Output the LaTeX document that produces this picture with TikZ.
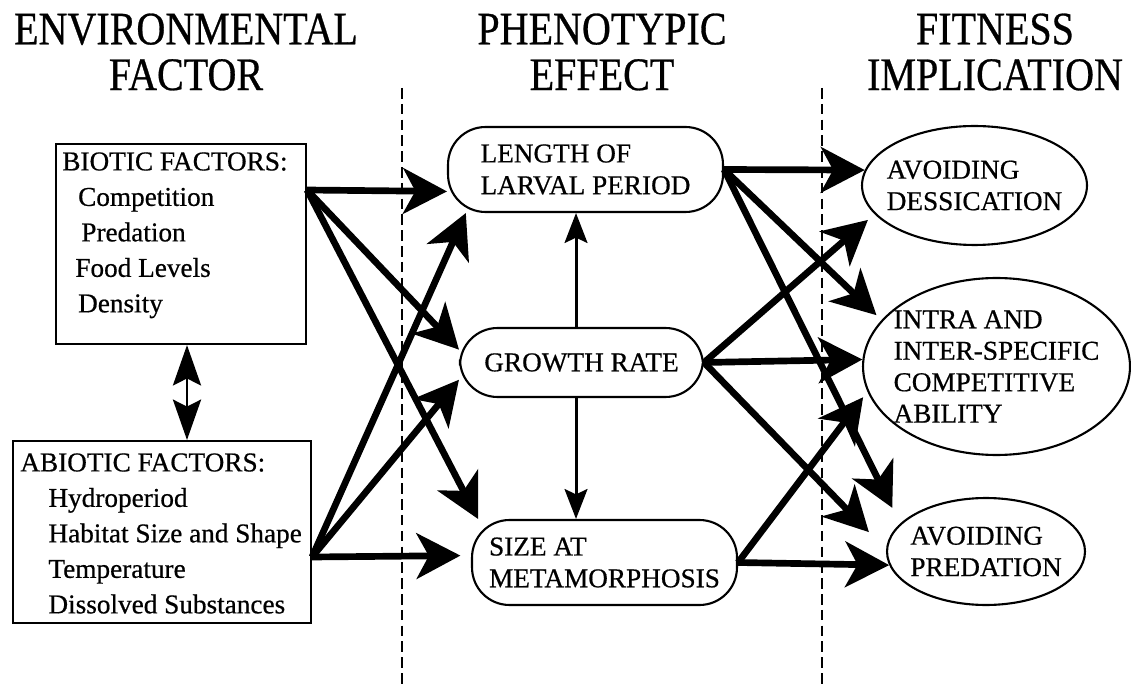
\documentclass[tikz,border=0pt]{standalone}
\usepackage{fontspec}
\setmainfont[FakeBold=0.6]{Liberation Serif}
\newfontfamily\headfont[FakeStretch=0.86,FakeBold=0.6]{Liberation Serif}
\usetikzlibrary{arrows.meta,shapes.geometric}

\begin{document}
\begin{tikzpicture}[x=0.02cm,y=-0.02cm,
  heading/.style={font=\headfont\fontsize{26.5}{26}\selectfont, align=center},
  txt/.style={font=\fontsize{15.5}{20.2}\selectfont, align=left, inner sep=0pt},
  box/.style={draw, line width=1.2pt, inner sep=0pt},
  phen/.style={draw, rounded corners=0.75cm, line width=1.2pt, align=left, inner sep=0pt, font=\fontsize{15.5}{18.1}\selectfont},
  fitn/.style={draw, ellipse, line width=1.2pt, align=left, inner sep=-20pt, font=\fontsize{15.5}{17.9}\selectfont},
  bigarr/.style={line width=3.8pt, -{Stealth[length=25pt,width=26pt,inset=7pt]}},
  thinarr/.style={line width=1.7pt, -{Stealth[length=17pt,width=13pt,inset=3pt]}},
  linkarr/.style={line width=1.6pt, {Stealth[length=23pt,width=16pt,inset=4pt]}-{Stealth[length=23pt,width=16pt,inset=4pt]}},
  divline/.style={line width=1.1pt, dash pattern=on 6pt off 3pt}]

\useasboundingbox (0,0) rectangle (1131,685);

% column titles
\node[heading] (envhead) at (186,52) {ENVIRONMENTAL\\FACTOR};
\node[heading] (phenhead) at (602,52) {PHENOTYPIC\\EFFECT};
\node[heading] (fithead) at (995,52) {FITNESS\\IMPLICATION};

\draw[divline] (402,88) -- (402,685);
\draw[divline] (822,88) -- (822,685);

% environmental factors
\node[box, anchor=north west, minimum width=5cm, minimum height=4cm] (bio) at (55,143) {};
\node[txt, anchor=north west] (biotxt) at (62,152) {BIOTIC FACTORS:\\\hspace*{9pt}Competition\\\hspace*{10.8pt}Predation\\\hspace*{7.4pt}Food Levels\\\hspace*{9pt}Density};

\node[box, anchor=north west, minimum width=5.96cm, minimum height=3.64cm] (abio) at (12,440) {};
\node[txt, anchor=north west] (abiotxt) at (20,453) {ABIOTIC FACTORS:\\\hspace*{16pt}Hydroperiod\\\hspace*{16pt}Habitat Size and Shape\\\hspace*{16pt}Temperature\\\hspace*{16pt}Dissolved Substances};

% phenotypic effects
\node[phen, minimum width=5.5cm, minimum height=1.7cm] (len) at (585.5,169.5) {LENGTH OF\\LARVAL PERIOD};
\node[phen, minimum width=4.86cm, minimum height=1.38cm] (gr) at (581.5,362.5) {GROWTH RATE};
\node[phen, minimum width=5.3cm, minimum height=1.7cm] (meta) at (604.5,562.5) {SIZE AT\\METAMORPHOSIS};

% fitness implications
\node[fitn, minimum width=4.5cm, minimum height=2.38cm] (dess) at (974.5,185.5) {AVOIDING\\DESSICATION};
\node[fitn, minimum width=5.34cm, minimum height=3.54cm] (comp) at (996.5,366.5) {INTRA AND\\INTER-SPECIFIC\\COMPETITIVE\\ABILITY};
\node[fitn, minimum width=3.96cm, minimum height=2.14cm] (pred) at (986,551.5) {AVOIDING\\PREDATION};

\coordinate (bout) at (bio.east |- 0,190);
\coordinate (aout) at (abio.east |- 0,557);
\coordinate (mid) at (576,0);
\coordinate (link) at (187,0);

\draw[linkarr] (bio.south -| link) -- (abio.north -| link);

\draw[bigarr] (bout) -- (len.189);
\draw[bigarr] (bout) -- (gr.174);
\draw[bigarr] (bout) -- (meta.161);
\draw[bigarr] (aout) -- (len.200);
\draw[bigarr] (aout) -- (gr.188);
\draw[bigarr, shorten >=6pt] (aout) -- (meta.177);

\draw[thinarr] (gr.north -| mid) -- (len.south -| mid);
\draw[thinarr] (gr.south -| mid) -- (meta.north -| mid);

\draw[bigarr] (len.east) -- (dess.172);
\draw[bigarr, shorten >=4pt] (len.east) -- (comp.158);
\draw[bigarr, shorten >=10pt] (len.east) -- (pred.162);
\draw[bigarr, shorten >=5pt] (gr.east) -- (dess.196);
\draw[bigarr] (gr.east) -- (comp.177);
\draw[bigarr, shorten >=14pt] (gr.east) -- (pred.179);
\draw[bigarr, shorten >=4pt] (meta.east) -- (comp.191);
\draw[bigarr] (meta.east) -- (pred.188);

\end{tikzpicture}
\end{document}
